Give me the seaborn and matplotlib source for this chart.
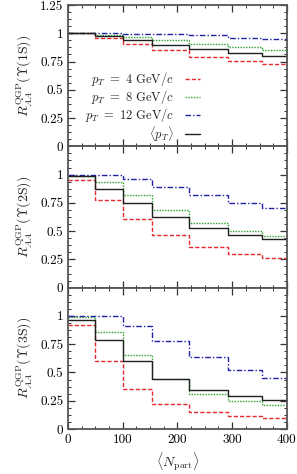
import numpy as np
import pandas as pd
import matplotlib
matplotlib.use("Agg")
import matplotlib.pyplot as plt
import seaborn as sns
from matplotlib.ticker import MultipleLocator, FixedLocator, FixedFormatter

# bin edges in <N_part>
edges = [0, 50, 101, 154, 222, 293, 354, 400]

# Upsilon(1S)
s1_pt4 = [1.0, 0.958, 0.907, 0.85, 0.793, 0.754, 0.725]
s1_pt8 = [1.0, 0.985, 0.964, 0.94, 0.907, 0.877, 0.856]
s1_pt12 = [1.0, 1.0, 0.997, 0.991, 0.982, 0.961, 0.946]
s1_avg = [1.0, 0.979, 0.937, 0.898, 0.859, 0.826, 0.80]

# Upsilon(2S)
s2_pt4 = [0.956, 0.779, 0.606, 0.462, 0.356, 0.297, 0.262]
s2_pt8 = [0.99, 0.935, 0.815, 0.688, 0.576, 0.50, 0.456]
s2_pt12 = [1.0, 1.0, 0.965, 0.894, 0.815, 0.747, 0.706]
s2_avg = [0.985, 0.876, 0.75, 0.629, 0.524, 0.462, 0.426]

# Upsilon(3S)
s3_pt4 = [0.918, 0.60, 0.353, 0.224, 0.153, 0.115, 0.10]
s3_pt8 = [0.99, 0.862, 0.653, 0.441, 0.309, 0.25, 0.212]
s3_pt12 = [0.997, 0.997, 0.912, 0.776, 0.635, 0.524, 0.453]
s3_avg = [0.965, 0.791, 0.603, 0.444, 0.344, 0.288, 0.256]

labels = [r"$p_T\ =\ 4$ GeV$/c$", r"$p_T\ =\ 8$ GeV$/c$",
          r"$p_T\ =\ 12$ GeV$/c$", r"$\langle p_T\rangle$"]
states = ["1S", "2S", "3S"]

panels = [[s1_pt4, s1_pt8, s1_pt12, s1_avg],
          [s2_pt4, s2_pt8, s2_pt12, s2_avg],
          [s3_pt4, s3_pt8, s3_pt12, s3_avg]]

colors = ["#e8282a", "#2ca02c", "#2020a8", "#202020"]
styles = [(0, (3, 1.5)), (0, (1, 1)), (0, (4, 1.5, 1, 1.5)), "-"]

sns.set_theme(style="ticks")
plt.rcParams["font.family"] = "serif"
plt.rcParams["font.serif"] = ["cmr10", "DejaVu Serif"]
plt.rcParams["mathtext.fontset"] = "cm"
plt.rcParams["axes.unicode_minus"] = False

fig, axes = plt.subplots(3, 1, figsize=(2.97, 4.74), dpi=100, sharex=True)
fig.subplots_adjust(left=0.229, right=0.966, top=0.9895, bottom=0.095, hspace=0)

for i, ax in enumerate(axes):
    for vals, lab, c, ls in zip(panels[i], labels, colors, styles):
        df = pd.DataFrame({"x": edges, "y": vals + [vals[-1]]})
        sns.lineplot(data=df, x="x", y="y", ax=ax, color=c, linestyle=ls,
                     linewidth=1.0, drawstyle="steps-post", estimator=None,
                     label=lab if i == 0 else None, legend=False)
    ax.set_xlim(0, 400)
    ax.set_ylim(0, 1.25)
    if i == 0:
        yt = [0, 0.25, 0.5, 0.75, 1, 1.25]
    else:
        yt = [0, 0.25, 0.5, 0.75, 1]
    ax.yaxis.set_major_locator(FixedLocator(yt))
    ax.yaxis.set_major_formatter(FixedFormatter(["%g" % v for v in yt]))
    ax.yaxis.set_minor_locator(MultipleLocator(0.0625))
    ax.xaxis.set_major_locator(MultipleLocator(100))
    ax.xaxis.set_minor_locator(MultipleLocator(25))
    ax.tick_params(which="both", direction="in", top=True, right=True,
                   labelsize=9.5, colors="#333333", labelcolor="black")
    ax.tick_params(which="major", length=5, width=0.9)
    ax.tick_params(which="minor", length=2.5, width=0.7)
    for sp in ax.spines.values():
        sp.set_linewidth(1.3)
        sp.set_color("#555555")
    ax.set_ylabel(r"$R_{AA}^{\rm QGP}(\Upsilon(\mathrm{" + states[i] + "}))$",
                  fontsize=10, labelpad=4)
    ax.set_xlabel("")

axes[2].set_xlabel(r"$\langle N_{\rm part}\rangle$", fontsize=10, labelpad=3)

axes[0].legend(loc="center right", bbox_to_anchor=(0.645, 0.28), frameon=False,
               markerfirst=False, fontsize=9, handlelength=1.2,
               handletextpad=0.9, labelspacing=0.0, borderpad=0.2)

fig.savefig("out.png", dpi=100)
